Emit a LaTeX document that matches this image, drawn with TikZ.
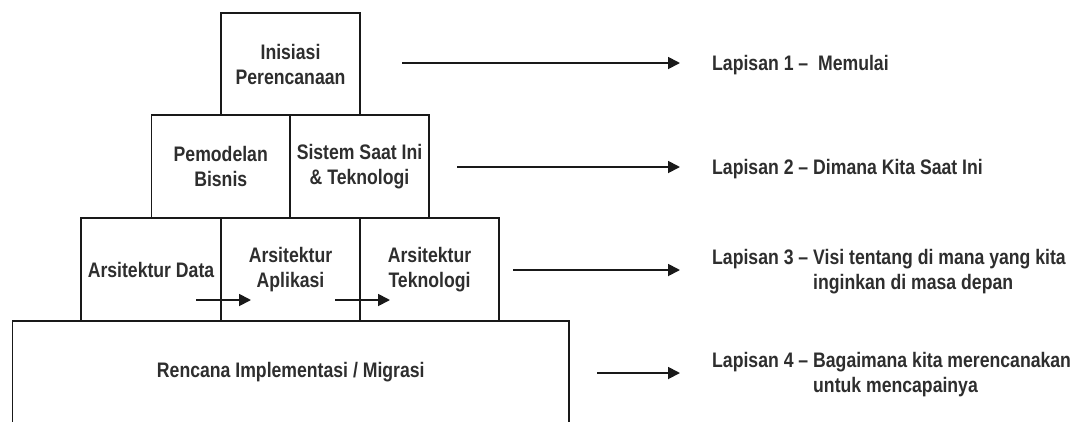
\documentclass[tikz,border=0pt]{standalone}
\usepackage{fontspec}
\setmainfont{Liberation Sans}[FakeStretch=0.84,UprightFont=*-Bold]
\usetikzlibrary{arrows.meta}

\begin{document}
\begin{tikzpicture}[x=1pt,y=-1pt,
  block/.style={draw=black!90, line width=1.7pt, inner sep=0pt, align=center,
    text=black!82, font=\fontsize{21}{25}\selectfont},
  layer/.style={inner sep=0pt, text=black!82, font=\fontsize{21}{25}\selectfont},
  flow/.style={line width=1.8pt, draw=black!90, -{Triangle[length=12pt,width=12pt]}},
  toLayer/.style={flow, shorten >=32pt}]

\useasboundingbox (0,0) rectangle (1075,421);
\clip (0,0) rectangle (1075,421);
\fill[white] (0,0) rectangle (1075,421);

% pyramid of planning stages
\node[block, minimum width=139pt, minimum height=102pt] (init) at (290.5,64) {Inisiasi\\Perencanaan};

\node[block, minimum width=138.5pt, minimum height=103pt] (bisnis) at (220.75,166.5) {Pemodelan\\Bisnis};
\node[block, minimum width=139pt, minimum height=103pt] (sistem) at (359.5,166.5) {Sistem Saat Ini\\\& Teknologi};

\node[block, minimum width=140pt, minimum height=103pt] (data) at (151,269.5) {Arsitektur Data};
\node[block, minimum width=139pt, minimum height=103pt] (aplikasi) at (290.5,269.5) {Arsitektur\\Aplikasi};
\node[block, minimum width=139pt, minimum height=103pt] (teknologi) at (429.5,269.5) {Arsitektur\\Teknologi};

\node[block, minimum width=556.4pt, minimum height=103pt] (migrasi) at (290.8,372.5) {Rencana Implementasi / Migrasi};

% flow between the architecture blocks
\coordinate (da) at (196,300);
\coordinate (ad) at (251,300);
\coordinate (at) at (335,300);
\coordinate (ta) at (390,300);
\draw[flow] (da) -- (ad);
\draw[flow] (at) -- (ta);

% layer descriptions
\node[layer, anchor=base west] (l1) at (712,70.5) {Lapisan 1 –\ \ Memulai};
\node[layer, anchor=base west] (l2) at (712,174.5) {Lapisan 2 – Dimana Kita Saat Ini};
\node[layer, anchor=north west] (l3) at (712,246.5) {%
  \begin{tabular}{@{}l@{\ }l@{}}Lapisan 3 – & Visi tentang di mana yang kita\\ & inginkan di masa depan\end{tabular}};
\node[layer, anchor=north west] (l4) at (712,349.5) {%
  \begin{tabular}{@{}l@{\ }l@{}}Lapisan 4 – & Bagaimana kita merencanakan\\ & untuk mencapainya\end{tabular}};

% arrows pointing to each layer
\coordinate (s1) at (402,63);
\coordinate (s2) at (457,167);
\coordinate (s3) at (513,270);
\coordinate (s4) at (597,373);
\draw[toLayer] (s1) -- (s1 -| l1.west);
\draw[toLayer] (s2) -- (s2 -| l2.west);
\draw[toLayer] (s3) -- (s3 -| l3.west);
\draw[toLayer] (s4) -- (s4 -| l4.west);
\end{tikzpicture}
\end{document}
